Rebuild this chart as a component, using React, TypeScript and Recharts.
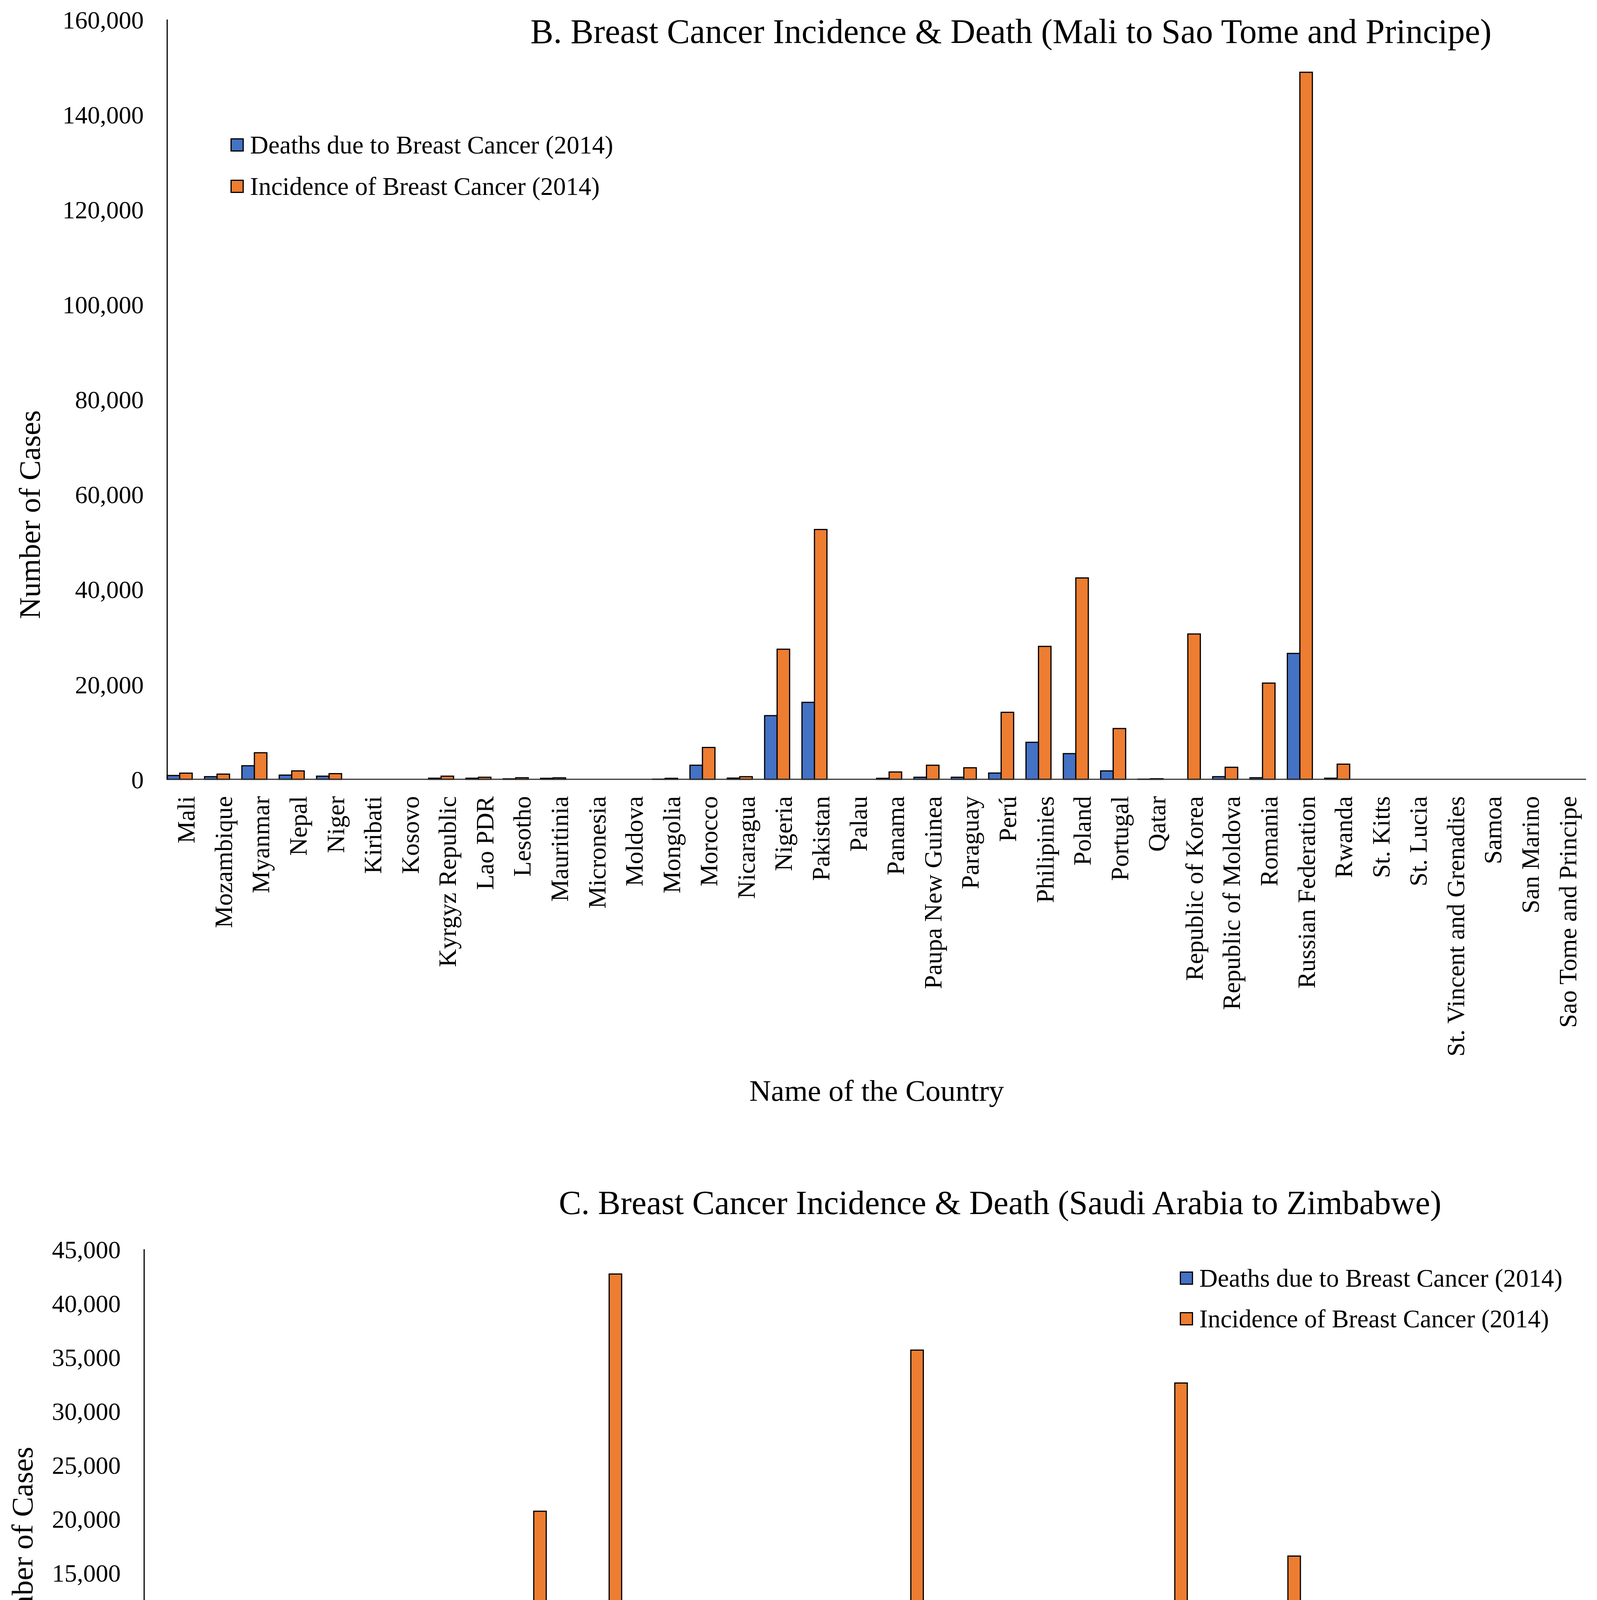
import React from "react";
import { BarChart, Bar, XAxis, YAxis, Legend } from "recharts";

const FONT = "'Liberation Serif', 'Times New Roman', Times, serif";
const BLUE = "#4472C4";
const ORANGE = "#ED7D31";

const DEATHS_NAME = "Deaths due to Breast Cancer (2014)";
const INCIDENCE_NAME = "Incidence of Breast Cancer (2014)";

// Panel B: Mali to Sao Tome and Principe
const countriesB = [
  "Mali", "Mozambique", "Myanmar", "Nepal", "Niger", "Kiribati", "Kosovo",
  "Kyrgyz Republic", "Lao PDR", "Lesotho", "Mauritinia", "Micronesia", "Moldova",
  "Mongolia", "Morocco", "Nicaragua", "Nigeria", "Pakistan", "Palau", "Panama",
  "Paupa New Guinea", "Paraguay", "Perú", "Philipinies", "Poland", "Portugal",
  "Qatar", "Republic of Korea", "Republic of Moldova", "Romania",
  "Russian Federation", "Rwanda", "St. Kitts", "St. Lucia",
  "St. Vincent and Grenadies", "Samoa", "San Marino", "Sao Tome and Principe",
];
const deathsB = [
  800, 550, 2860, 880, 660, 0, 0, 220, 220, 100, 200, 0, 0, 50, 2970, 250, 13400,
  16200, 0, 200, 440, 440, 1320, 7800, 5400, 1760, 50, 0, 550, 330, 26500, 220,
  0, 0, 0, 0, 0, 0,
];
const incidenceB = [
  1300, 1100, 5600, 1760, 1200, 0, 0, 660, 440, 330, 300, 0, 0, 200, 6700, 550,
  27400, 52600, 0, 1540, 2970, 2420, 14100, 28000, 42400, 10700, 120, 30600, 2530,
  20260, 148900, 3190, 0, 0, 0, 0, 0, 0,
];
const ticksB = [0, 20000, 40000, 60000, 80000, 100000, 120000, 140000, 160000];
const tickLabelsB = ["0", "20,000", "40,000", "60,000", "80,000", "100,000", "120,000", "140,000", "160,000"];

// Panel C: Saudi Arabia to Zimbabwe
const countriesC = [
  "Saudi Arabia", "Senegal", "Serbia", "Seychelles", "Sierra Leone", "Singapore",
  "Slovakia", "Slovenia", "Solomon Islands", "Somalia", "South Africa",
  "South Sudan", "Spain", "Sri Lanka", "Sudan", "Suriname", "Sweden",
  "Switzerland", "Syriam Arabic Repblic", "Tajikistan", "Thailand",
  "The former Yugoslav Rep of Macedonia", "Timor Leste", "Togo", "Tonga",
  "Trinidad & Tobage", "Tunisia", "Turkey", "Trkmenistan", "Tuvaly", "Ukraine",
  "Uzbekistan", "Vanuatu", "Vietnam", "West Bank and Gaza", "Yemen, Rep.",
  "Zambia", "Zimbabwe",
];
const deathsC = [
  870, 450, 2180, 0, 280, 620, 870, 490, 30, 100, 310, 550, 7110, 1350, 1840, 30,
  1560, 1560, 1530, 210, 4750, 310, 30, 30, 0, 200, 70, 5130, 30, 0, 8320, 1250,
  0, 4200, 0, 1000, 140, 140,
];
const incidenceC = [
  4260, 2810, 11020, 0, 1320, 3220, 4920, 2700, 210, 3220, 20700, 3120, 42700,
  7210, 7590, 210, 11090, 7400, 6210, 1800, 35640, 1700, 280, 1490, 0, 940, 2810,
  32590, 1910, 0, 16540, 3400, 0, 11090, 0, 2010, 830, 1140,
];
const ticksC = [0, 5000, 10000, 15000, 20000, 25000, 30000, 35000, 40000, 45000];
const tickLabelsC = ["0", "5000", "10,000", "15,000", "20,000", "25,000", "30,000", "35,000", "40,000", "45,000"];

const rows = (countries: string[], deaths: number[], incidence: number[]) =>
  countries.map((country, i) => ({ country, deaths: deaths[i], incidence: incidence[i] }));

const PANELS = [
  {
    title: "B. Breast Cancer Incidence & Death (Mali to Sao Tome and Principe)",
    data: rows(countriesB, deathsB, incidenceB),
    ticks: ticksB,
    tickLabels: tickLabelsB,
    top: 0,
    height: 2900,
    margin: { top: 50, right: 28, left: 0, bottom: 0 },
    yWidth: 428,
    xHeight: 905,
    titleX: 2588,
    titleTop: 37,
    titleSize: 88,
    legendLeft: 590,
    legendTop: 318,
    legendRow: 106,
    yTitleX: 76,
    yTitleShift: 295,
    xTitleDrop: 823,
  },
  {
    title: "C. Breast Cancer Incidence & Death (Saudi Arabia to Zimbabwe)",
    data: rows(countriesC, deathsC, incidenceC),
    ticks: ticksC,
    tickLabels: tickLabelsC,
    top: 2900,
    height: 2759,
    margin: { top: 298, right: 51, left: 0, bottom: 0 },
    yWidth: 369,
    xHeight: 1219,
    titleX: 2560,
    titleTop: 136,
    titleSize: 86,
    legendLeft: 3020,
    legendTop: 320,
    legendRow: 104,
    yTitleX: 57,
    yTitleShift: 152,
    xTitleDrop: 1177,
  },
];

function CountryTick(props: any) {
  const { x, y, payload } = props;
  return (
    <g transform={`translate(${x},${y})`}>
      <text transform="rotate(-90)" textAnchor="end" dy="0.35em" fontSize={64} fontFamily={FONT} fill="#000">
        {payload.value}
      </text>
    </g>
  );
}

function Panel({ p }: { p: (typeof PANELS)[number] }) {
  const labelFor = (v: number) => p.tickLabels[p.ticks.indexOf(v)] ?? String(v);
  return (
    <div style={{ position: "absolute", left: 0, top: p.top, width: 4088, height: p.height }}>
      <div
        style={{
          position: "absolute",
          left: p.titleX - 1600,
          width: 3200,
          top: p.titleTop,
          textAlign: "center",
          fontFamily: FONT,
          fontSize: p.titleSize,
          lineHeight: `${p.titleSize}px`,
          color: "#000",
          whiteSpace: "nowrap",
          zIndex: 2,
        }}
      >
        {p.title}
      </div>
      <BarChart
        width={4088}
        height={p.height}
        data={p.data}
        margin={p.margin}
        barCategoryGap={0}
        barGap={0}
      >
        <XAxis
          dataKey="country"
          type="category"
          interval={0}
          height={p.xHeight}
          tickLine={false}
          tickSize={0}
          tickMargin={43}
          axisLine={{ stroke: "#333", strokeWidth: 3 }}
          tick={<CountryTick />}
          label={(lp: any) => {
            const vb = lp.viewBox;
            return (
              <text
                x={vb.x + vb.width / 2}
                y={vb.y + p.xTitleDrop}
                textAnchor="middle"
                fontSize={77}
                fontFamily={FONT}
                fill="#000"
              >
                Name of the Country
              </text>
            );
          }}
        />
        <YAxis
          type="number"
          domain={[0, p.ticks[p.ticks.length - 1]]}
          ticks={p.ticks}
          interval={0}
          width={p.yWidth}
          tickLine={false}
          tickSize={0}
          tickMargin={60}
          tickFormatter={labelFor}
          tick={{ fontSize: 64, fontFamily: FONT, fill: "#000" }}
          axisLine={{ stroke: "#000", strokeWidth: 3 }}
          label={(lp: any) => {
            const vb = lp.viewBox;
            const cx = vb.x + p.yTitleX;
            const cy = vb.y + vb.height / 2 + p.yTitleShift;
            return (
              <text
                x={cx}
                y={cy}
                transform={`rotate(-90, ${cx}, ${cy})`}
                textAnchor="middle"
                dominantBaseline="central"
                fontSize={77}
                fontFamily={FONT}
                fill="#000"
              >
                Number of Cases
              </text>
            );
          }}
        />
        <Legend
          layout="vertical"
          align="center"
          verticalAlign="middle"
          wrapperStyle={{ left: p.legendLeft, top: p.legendTop, width: 1100 }}
          content={(lp: any) => (
            <div style={{ fontFamily: FONT, fontSize: 65, color: "#000" }}>
              {(lp.payload || [])
                .filter((entry: any) => entry.type !== "none" && entry.dataKey !== "slot")
                .map((entry: any) => (
                  <div
                    key={entry.value}
                    style={{ display: "flex", alignItems: "center", height: p.legendRow, whiteSpace: "nowrap" }}
                  >
                    <span
                      style={{
                        display: "inline-block",
                        width: 28,
                        height: 28,
                        background: entry.color,
                        border: "3px solid #000",
                        marginRight: 16,
                      }}
                    />
                    {entry.value}
                  </div>
                ))}
            </div>
          )}
        />
        <Bar dataKey="deaths" name={DEATHS_NAME} fill={BLUE} stroke="#000" strokeWidth={3} isAnimationActive={false} />
        <Bar dataKey="incidence" name={INCIDENCE_NAME} fill={ORANGE} stroke="#000" strokeWidth={3} isAnimationActive={false} />
        {/* empty third slot: the source chart leaves a blank bar width after each pair */}
        <Bar dataKey="slot" legendType="none" fill="none" isAnimationActive={false} />
      </BarChart>
    </div>
  );
}

export default function App() {
  return (
    <div style={{ position: "relative", margin: -8, width: 4088, height: 5659, background: "#fff", overflow: "hidden" }}>
      {PANELS.map((p) => (
        <Panel key={p.title} p={p} />
      ))}
    </div>
  );
}
